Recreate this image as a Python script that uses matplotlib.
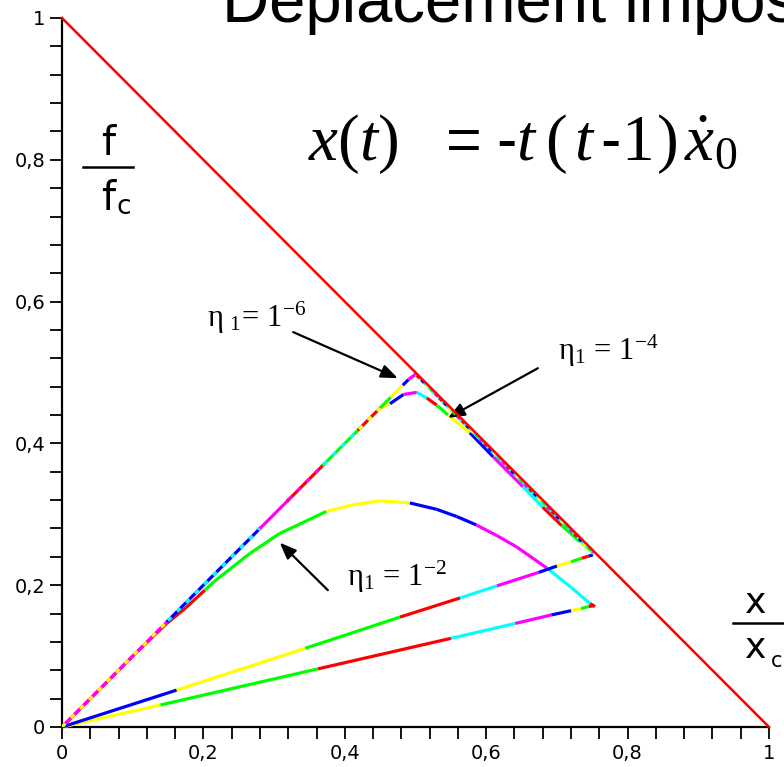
import matplotlib
matplotlib.use('Agg')
import matplotlib.pyplot as plt
from matplotlib.lines import Line2D

plt.rcParams['mathtext.fontset'] = 'custom'
plt.rcParams['mathtext.rm'] = 'Liberation Serif'
plt.rcParams['mathtext.it'] = 'Liberation Serif:italic'
plt.rcParams['font.family'] = 'DejaVu Sans'

# ---- data ----
tick_values = [0, 0.2, 0.4, 0.6, 0.8, 1]
tick_labels = ['0', '0,2', '0,4', '0,6', '0,8', '1']

# yield line f/fc + x/xc = 1
limit_x = [0, 1]
limit_f = [1, 0]

# shared elastic loading on f = x (two colours interleaved)
load_x = [0, 0.15, 0.28, 0.32, 0.37, 0.42, 0.45]
load_f = [0, 0.15, 0.28, 0.32, 0.37, 0.42, 0.45]
load_c1 = ['magenta', 'blue', 'magenta', 'red', 'lime', 'red']
load_c2 = ['yellow', 'cyan', None, 'magenta', 'cyan', 'yellow']

# eta1 = 1e-6 : sharp peak then along the yield line
e6_x = [0.45, 0.465, 0.482, 0.49, 0.502]
e6_f = [0.45, 0.465, 0.482, 0.49, 0.499]
e6_c = ['lime', 'yellow', 'blue', 'magenta']
e6_yield_x = [0.502, 0.62, 0.751]
e6_yield_f = [0.496, 0.377, 0.246]

# eta1 = 1e-4 : rounded peak, slightly under the yield line
e4_x = [0.45, 0.464, 0.483, 0.502, 0.516, 0.53, 0.546, 0.577, 0.61, 0.652, 0.68, 0.707, 0.733, 0.751]
e4_f = [0.45, 0.456, 0.469, 0.472, 0.464, 0.454, 0.44, 0.415, 0.381, 0.339, 0.31, 0.284, 0.261, 0.245]
e4_c = ['yellow', 'blue', 'magenta', 'cyan', 'red', 'lime', 'yellow', 'blue', 'magenta', 'cyan',
        'red', 'lime', 'yellow']

# unloading shared by eta1 = 1e-6 and 1e-4
unl1_x = [0.751, 0.745, 0.735, 0.72, 0.70, 0.674, 0.615, 0.563, 0.478, 0.344, 0.162, 0]
unl1_f = [0.243, 0.241, 0.238, 0.233, 0.227, 0.218, 0.199, 0.182, 0.155, 0.111, 0.052, 0]
unl1_c = ['blue', 'red', 'lime', 'yellow', 'blue', 'magenta', 'cyan', 'red', 'lime', 'yellow', 'blue']

# eta1 = 1e-2 : loading, hardening-like curve, then unloading
e2_x = [0, 0.10, 0.148, 0.175, 0.202, 0.215, 0.266, 0.308, 0.374, 0.41, 0.45, 0.492, 0.53, 0.558,
        0.586, 0.615, 0.643, 0.686, 0.72, 0.747, 0.754]
e2_f = [0, 0.10, 0.146, 0.168, 0.193, 0.205, 0.245, 0.273, 0.304, 0.313, 0.319, 0.316, 0.307, 0.297,
        0.285, 0.27, 0.254, 0.224, 0.197, 0.174, 0.170]
e2_c = ['red', 'red', 'red', 'red', 'lime', 'lime', 'lime', 'lime', 'yellow', 'yellow', 'yellow',
        'blue', 'blue', 'blue', 'magenta', 'magenta', 'magenta', 'cyan', 'cyan', 'red']

unl2_x = [0.752, 0.745, 0.734, 0.72, 0.692, 0.641, 0.55, 0.362, 0.139, 0]
unl2_f = [0.171, 0.170, 0.167, 0.164, 0.158, 0.146, 0.125, 0.082, 0.031, 0]
unl2_c = ['red', 'lime', 'yellow', 'blue', 'magenta', 'cyan', 'red', 'lime', 'yellow']

# annotations: label, text position, arrow tail, arrow head
notes = [
    (r'$\mathrm{\eta}\;{}_{1}\!\mathrm{=}\,1^{-6}$', (0.205, 0.564), (0.327, 0.557), (0.475, 0.492)),
    (r'$\mathrm{\eta}_{1}\,\mathrm{=}\,1^{-4}$', (0.702, 0.518), (0.673, 0.506), (0.546, 0.436)),
    (r'$\mathrm{\eta}_{1}\,\mathrm{=}\,1^{-2}$', (0.403, 0.199), (0.376, 0.193), (0.308, 0.260)),
]

W, H = 784, 767
fig = plt.figure(figsize=(W / 100, H / 100), dpi=100)
ax = fig.add_axes([62 / W, 40 / H, 707 / W, 709 / H])

lw = 2.3


def colored(xs, fs, colors, z=3):
    for i, c in enumerate(colors):
        if c is None:
            continue
        ax.plot(xs[i:i + 2], fs[i:i + 2], color=c, lw=lw, solid_capstyle='butt', zorder=z, clip_on=False)


# elastic loading, two interleaved colours
for i in range(len(load_c1)):
    ax.plot(load_x[i:i + 2], load_f[i:i + 2], color=load_c1[i], lw=lw, zorder=3)
    if load_c2[i]:
        ax.plot(load_x[i:i + 2], load_f[i:i + 2], color=load_c2[i], lw=lw, zorder=3.1,
                linestyle=(0, (1.5, 2.5)))

colored(e2_x, e2_f, e2_c, z=2.5)
colored(unl2_x, unl2_f, unl2_c)
colored(unl1_x, unl1_f, unl1_c)
colored(e4_x, e4_f, e4_c)
colored(e6_x, e6_f, e6_c)

# mixed colours along the yield line for eta1 = 1e-6
ax.plot(e6_yield_x, e6_yield_f, color='cyan', lw=lw, zorder=3)
for c, off in [('red', 0), ('magenta', 2), ('lime', 4), ('yellow', 6), ('blue', 8)]:
    ax.plot(e6_yield_x, e6_yield_f, color=c, lw=lw, zorder=3.2,
            linestyle=(off, (1.2, 8.8)), dash_capstyle='butt')

ax.plot(limit_x, limit_f, color='red', lw=1.8, zorder=4, clip_on=False)

for label, txt, tail, head in notes:
    ax.text(txt[0], txt[1], label, fontsize=22, ha='left', va='baseline')
    ax.annotate('', xy=head, xytext=tail,
                arrowprops=dict(arrowstyle='-|>,head_length=1.0,head_width=0.4',
                                color='black', lw=1.6, shrinkA=0, shrinkB=0))

# axes look
ax.set_xlim(0, 1)
ax.set_ylim(0, 1)
for s in ['top', 'right']:
    ax.spines[s].set_visible(False)
for s in ['left', 'bottom']:
    ax.spines[s].set_linewidth(1.6)
ax.set_xticks(tick_values)
ax.set_xticklabels(tick_labels)
ax.set_yticks(tick_values)
ax.set_yticklabels(tick_labels)
ax.set_xticks([i * 0.04 for i in range(26)], minor=True)
ax.set_yticks([i * 0.04 for i in range(26)], minor=True)
ax.tick_params(which='both', direction='out', length=8.5, width=1.3, labelsize=14)
ax.tick_params(axis='y', pad=3.5)
ax.tick_params(axis='x', pad=4)

# title (cut by the top edge as in the source)
fig.text(222 / W, 1 - 22 / H, 'Déplacement imposé', fontsize=47, family='Liberation Sans',
         ha='left', va='baseline')

# formula x(t) = -t(t-1) x0_dot, piece by piece
base = 1 - 160 / H
fs_eq = 47
fig.text(308 / W, base, r'$x(t)$', fontsize=fs_eq, ha='left', va='baseline')
fig.text(446 / W, base, '=', fontsize=44, family='Liberation Sans', ha='left', va='baseline')
fig.text(496 / W, base, '-', fontsize=44, family='Liberation Sans', ha='left', va='baseline')
fig.text(516 / W, base, r'$t$', fontsize=fs_eq, ha='left', va='baseline')
fig.text(545 / W, base, r'$($', fontsize=fs_eq, ha='left', va='baseline')
fig.text(574 / W, base, r'$t$', fontsize=fs_eq, ha='left', va='baseline')
fig.text(600 / W, base, '-', fontsize=44, family='Liberation Sans', ha='left', va='baseline')
fig.text(621 / W, base, r'$1$', fontsize=fs_eq, ha='left', va='baseline')
fig.text(656 / W, base, r'$)$', fontsize=fs_eq, ha='left', va='baseline')
fig.text(684 / W, base, r'$\dot{x}_{0}$', fontsize=fs_eq, ha='left', va='baseline')

# axis names as fractions
fig.text(108 / W, 1 - 155 / H, 'f', fontsize=29, ha='center', va='baseline')
fig.add_artist(Line2D([83 / W, 133 / W], [1 - 167 / H, 1 - 167 / H], color='black', lw=1.8))
fig.text(108 / W, 1 - 210 / H, 'f', fontsize=29, ha='center', va='baseline')
fig.text(116 / W, 1 - 214 / H, 'c', fontsize=19, ha='left', va='baseline')

fig.text(756 / W, 1 - 613 / H, 'x', fontsize=26, ha='center', va='baseline')
fig.add_artist(Line2D([733 / W, 784 / W], [1 - 623 / H, 1 - 623 / H], color='black', lw=1.8))
fig.text(756 / W, 1 - 658 / H, 'x', fontsize=26, ha='center', va='baseline')
fig.text(771 / W, 1 - 667 / H, 'c', fontsize=15, ha='left', va='baseline')

fig.savefig('out.png', dpi=100)
